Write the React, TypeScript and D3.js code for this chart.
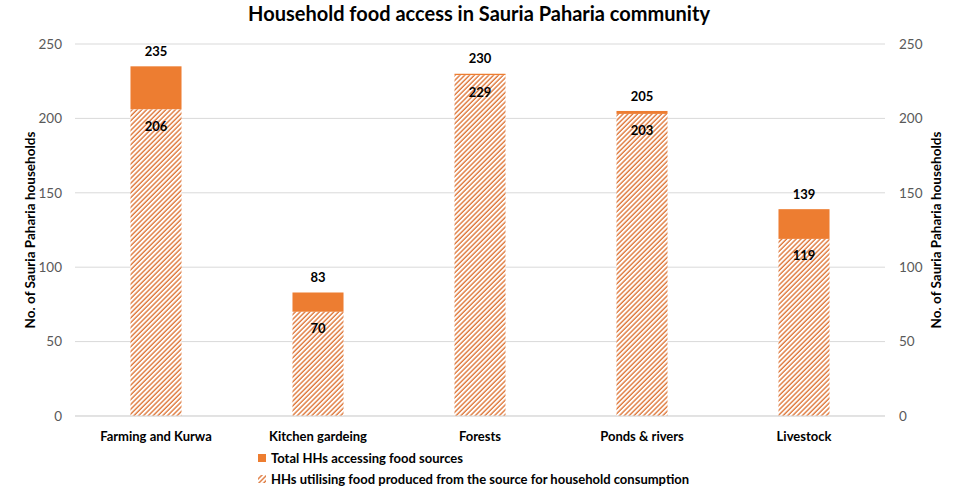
import { useEffect, useRef } from 'react'
import * as d3 from 'd3'

const categories = ['Farming and Kurwa', 'Kitchen gardeing', 'Forests', 'Ponds & rivers', 'Livestock']
const totalHHs = [235, 83, 230, 205, 139]
const utilisingHHs = [206, 70, 229, 203, 119]
const yTicks = [0, 50, 100, 150, 200, 250]

const ORANGE = '#ED7D31'
const FONT = 'Lato, "Open Sans", sans-serif'

export default function App() {
  const ref = useRef<SVGSVGElement | null>(null)
  useEffect(() => {
    if (!ref.current) return
    const svg = d3.select(ref.current)
    svg.selectAll('*').remove()
    const width = 957
    const height = 489
    const margin = { top: 44, right: 72, bottom: 73, left: 75 }

    const defs = svg.append('defs')
    const pat = defs
      .append('pattern')
      .attr('id', 'hatch')
      .attr('patternUnits', 'userSpaceOnUse')
      .attr('width', 3.4)
      .attr('height', 3.4)
      .attr('patternTransform', 'rotate(45)')
    pat.append('rect').attr('width', 3.4).attr('height', 3.4).attr('fill', '#fff')
    pat.append('line').attr('x1', 1).attr('y1', 0).attr('x2', 1).attr('y2', 3.4)
      .attr('stroke', '#DC6E2C').attr('stroke-width', 1.3)

    const x = d3
      .scaleBand()
      .domain(categories)
      .range([margin.left, width - margin.right])
      .padding(0)
    const barW = x.bandwidth() * 0.315
    const y = d3
      .scaleLinear()
      .domain([0, 250])
      .range([height - margin.bottom, margin.top])

    // title
    svg.append('text')
      .attr('x', 479).attr('y', 21)
      .attr('text-anchor', 'middle')
      .attr('font-family', FONT).attr('font-weight', 'bold').attr('font-size', 20)
      .attr('fill', '#000')
      .text('Household food access in Sauria Paharia community')

    // gridlines
    svg.append('g')
      .selectAll('line')
      .data(yTicks)
      .enter()
      .append('line')
      .attr('x1', margin.left).attr('x2', width - margin.right)
      .attr('y1', (d) => y(d)).attr('y2', (d) => y(d))
      .attr('stroke', '#D9D9D9').attr('stroke-width', 1)

    // left & right ticks
    const tickG = svg.append('g').attr('font-family', FONT).attr('font-size', 13.5).attr('fill', '#595959')
    tickG.selectAll('text.l').data(yTicks).enter().append('text')
      .attr('class', 'l')
      .attr('x', 62).attr('y', (d) => y(d)).attr('dy', '0.35em')
      .attr('text-anchor', 'end').text((d) => d)
    tickG.selectAll('text.r').data(yTicks).enter().append('text')
      .attr('class', 'r')
      .attr('x', 899).attr('y', (d) => y(d)).attr('dy', '0.35em')
      .attr('text-anchor', 'start').text((d) => d)

    // axis titles
    const midY = (y(0) + y(250)) / 2
    ;[30, 936].forEach((ax) => {
      svg.append('text')
        .attr('transform', `translate(${ax},${midY}) rotate(-90)`)
        .attr('text-anchor', 'middle').attr('dy', '0.35em')
        .attr('font-family', FONT).attr('font-weight', 'bold').attr('font-size', 13.5)
        .attr('fill', '#000')
        .text('No. of Sauria Paharia households')
    })

    const rows = categories.map((c, i) => ({ c, total: totalHHs[i], used: utilisingHHs[i] }))
    const cx = (c: string) => x(c)! + x.bandwidth() / 2

    // total (orange) stacked on top of hatched
    svg.append('g').selectAll('rect').data(rows).enter().append('rect')
      .attr('x', (d) => cx(d.c) - barW / 2)
      .attr('y', (d) => y(d.total))
      .attr('width', barW)
      .attr('height', (d) => y(d.used) - y(d.total))
      .attr('fill', ORANGE)
    svg.append('g').selectAll('rect').data(rows).enter().append('rect')
      .attr('x', (d) => cx(d.c) - barW / 2)
      .attr('y', (d) => y(d.used))
      .attr('width', barW)
      .attr('height', (d) => y(0) - y(d.used))
      .attr('fill', 'url(#hatch)')

    // baseline
    svg.append('line')
      .attr('x1', margin.left).attr('x2', width - margin.right)
      .attr('y1', y(0)).attr('y2', y(0))
      .attr('stroke', '#D9D9D9')

    // value labels
    const lab = svg.append('g').attr('font-family', FONT).attr('font-weight', 'bold')
      .attr('font-size', 13).attr('fill', '#000').attr('text-anchor', 'middle')
    lab.selectAll('text.t').data(rows).enter().append('text')
      .attr('class', 't')
      .attr('x', (d) => cx(d.c)).attr('y', (d) => y(d.total) - 15).attr('dy', '0.35em')
      .text((d) => d.total)
    lab.selectAll('text.u').data(rows).enter().append('text')
      .attr('class', 'u')
      .attr('x', (d) => cx(d.c)).attr('y', (d) => y(d.used) + 17).attr('dy', '0.35em')
      .text((d) => d.used)

    // category labels
    svg.append('g').selectAll('text').data(categories).enter().append('text')
      .attr('x', (d) => cx(d)).attr('y', 436).attr('dy', '0.35em')
      .attr('text-anchor', 'middle')
      .attr('font-family', FONT).attr('font-weight', 'bold').attr('font-size', 13)
      .attr('fill', '#000')
      .text((d) => d)

    // legend
    const leg = svg.append('g').attr('font-family', FONT).attr('font-weight', 'bold')
      .attr('font-size', 13).attr('fill', '#000')
    leg.append('rect').attr('x', 258).attr('y', 454).attr('width', 8).attr('height', 8).attr('fill', ORANGE)
    leg.append('text').attr('x', 271).attr('y', 458).attr('dy', '0.35em').text('Total HHs accessing food sources')
    leg.append('rect').attr('x', 258).attr('y', 475).attr('width', 8).attr('height', 8).attr('fill', 'url(#hatch)')
    leg.append('text').attr('x', 271).attr('y', 479).attr('dy', '0.35em')
      .text('HHs utilising food produced from the source for household consumption')
  }, [])
  return (
    <svg
      ref={ref}
      width={957}
      height={489}
      style={{ position: 'absolute', left: 0, top: 0, background: '#fff' }}
    />
  )
}
